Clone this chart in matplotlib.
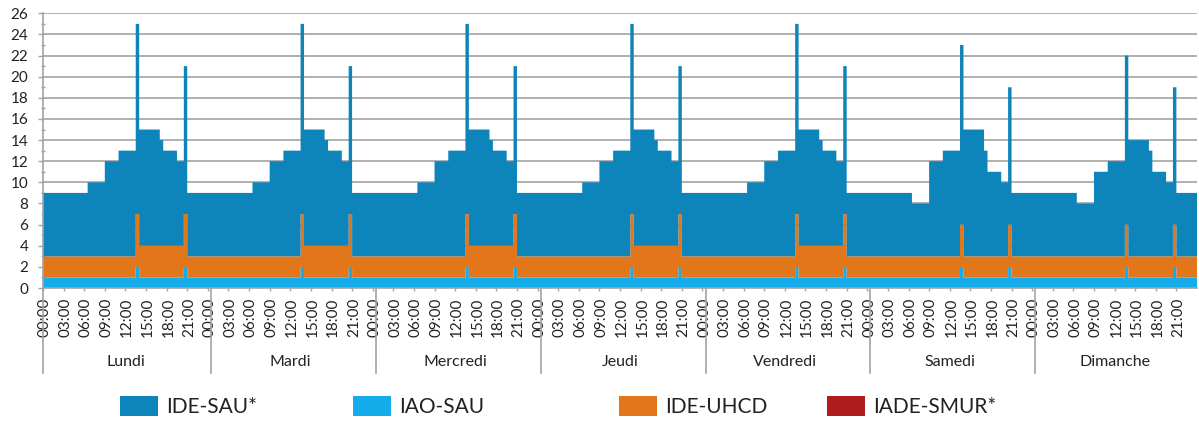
import numpy as np
import matplotlib
matplotlib.use("Agg")
import matplotlib.pyplot as plt
from matplotlib.patches import Patch
import matplotlib.transforms as mtransforms

plt.rcParams['font.family'] = ['Lato', 'DejaVu Sans']

# Staff on duty per half-hour slot (48 slots per day, 00:00 -> 23:30)
days = ["Lundi", "Mardi", "Mercredi", "Jeudi", "Vendredi", "Samedi", "Dimanche"]
hour_labels = ["00:00", "03:00", "06:00", "09:00", "12:00", "15:00", "18:00", "21:00"]

# Weekday profile (identical Monday to Friday)
sau_weekday = [6, 6, 6, 6, 6, 6, 6, 6, 6, 6, 6, 6, 6,
               7, 7, 7, 7, 7,
               9, 9, 9, 9,
               10, 10, 10, 10, 10,
               18,
               11, 11, 11, 11, 11, 11,
               10,
               9, 9, 9, 9,
               8, 8,
               14,
               6, 6, 6, 6, 6, 6]
iao_weekday = [1] * 27 + [2] + [1] * 13 + [2] + [1] * 6
uhcd_weekday = [2] * 27 + [5] + [3] * 13 + [5] + [2] * 6

# Saturday
sau_saturday = [6, 6, 6, 6, 6, 6, 6, 6, 6, 6, 6, 6, 6,
                5, 5, 5, 5, 5,
                9, 9, 9, 9,
                10, 10, 10, 10, 10,
                17,
                12, 12, 12, 12, 12, 12,
                10,
                8, 8, 8, 8,
                7, 7,
                13,
                6, 6, 6, 6, 6, 6]
iao_saturday = [1] * 27 + [2] + [1] * 13 + [2] + [1] * 6
uhcd_saturday = [2] * 27 + [4] + [2] * 13 + [4] + [2] * 6

# Sunday
sau_sunday = [6, 6, 6, 6, 6, 6, 6, 6, 6, 6, 6, 6, 6,
              5, 5, 5, 5, 5,
              8, 8, 8, 8,
              9, 9, 9, 9, 9,
              16,
              11, 11, 11, 11, 11, 11,
              10,
              8, 8, 8, 8,
              7, 7,
              13,
              6, 6, 6, 6, 6, 6]
iao_sunday = [1] * 27 + [2] + [1] * 13 + [2] + [1] * 6
uhcd_sunday = [2] * 27 + [4] + [2] * 13 + [4] + [2] * 6

ide_sau = np.array(sau_weekday * 5 + sau_saturday + sau_sunday, dtype=float)
iao_sau = np.array(iao_weekday * 5 + iao_saturday + iao_sunday, dtype=float)
ide_uhcd = np.array(uhcd_weekday * 5 + uhcd_saturday + uhcd_sunday, dtype=float)
iade_smur = np.zeros_like(ide_sau)

colors = {
    "IDE-SAU*": "#0D85BA",
    "IAO-SAU": "#15ACEC",
    "IDE-UHCD": "#E2761A",
    "IADE-SMUR*": "#B01C1C",
}

n_slots = len(ide_sau)
slots_per_day = 48
edges = np.arange(n_slots + 1)

fig = plt.figure(figsize=(11.99, 4.21), dpi=100)
ax = fig.add_axes([43 / 1199, 1 - 288 / 421, (1197 - 43) / 1199, (288 - 13.3) / 421])

# Stacked step areas (bottom to top)
base = np.zeros(n_slots)
for name, vals in [("IAO-SAU", iao_sau), ("IDE-UHCD", ide_uhcd),
                   ("IDE-SAU*", ide_sau), ("IADE-SMUR*", iade_smur)]:
    top = base + vals
    ax.stairs(top, edges, baseline=base, fill=True, color=colors[name],
              lw=0, zorder=2)
    base = top

ax.set_xlim(0, n_slots)
ax.set_ylim(0, 26)

# Y axis
grid_c = "#a3a3a3"
ax.set_yticks(np.arange(0, 27, 2))
ax.set_yticks(np.arange(1, 26, 2), minor=True)
ax.yaxis.grid(True, which="major", color=grid_c, lw=1.2, zorder=0)
ax.set_axisbelow(True)
ax.tick_params(axis="y", which="major", length=3.6, width=1, color=grid_c,
               pad=7, labelsize=11, labelcolor="#222222")
ax.tick_params(axis="y", which="minor", length=2.5, width=1, color=grid_c,
               direction="inout")

# X axis: hour labels at slot centres, short marks every 3 hours
label_pos = []
label_txt = []
for d in range(len(days)):
    for j, h in enumerate(hour_labels):
        label_pos.append(d * slots_per_day + 6 * j + 0.5)
        label_txt.append(h)
ax.set_xticks(label_pos)
ax.set_xticklabels(label_txt, rotation=90, ha="center", va="top")
ax.set_xticks(np.arange(0, n_slots, 6), minor=True)
ax.tick_params(axis="x", which="major", length=0, pad=7, labelsize=11,
               labelcolor="#222222")
ax.tick_params(axis="x", which="minor", length=2.5, width=1, color=grid_c)

for side in ("top", "right"):
    ax.spines[side].set_visible(False)
for side in ("left", "bottom"):
    ax.spines[side].set_color(grid_c)
    ax.spines[side].set_linewidth(1.2)

# Day group separators and day names
trans = mtransforms.blended_transform_factory(ax.transData, ax.transAxes)
sep_bottom = -(373 - 288) / (288 - 13.3)
for d in range(len(days)):
    xs = 0 if d == 0 else d * slots_per_day + 0.9
    ax.plot([xs, xs], [0, sep_bottom], transform=trans, color=grid_c,
            lw=1.2, clip_on=False, zorder=3)
    ax.text(d * slots_per_day + 24, -(362 - 288) / (288 - 13.3), days[d],
            transform=trans, ha="center", va="center", fontsize=11.5,
            color="#222222")

# Legend entries laid out along the bottom
legend_x = [120, 353, 619, 827]
for name, lx in zip(["IDE-SAU*", "IAO-SAU", "IDE-UHCD", "IADE-SMUR*"], legend_x):
    fig.legend(handles=[Patch(facecolor=colors[name], edgecolor="none", label=name)],
               loc="center left", bbox_to_anchor=(lx / 1199, 1 - 406.5 / 421),
               frameon=False, fontsize=15, handlelength=1.83, handleheight=1.1,
               handletextpad=0.37, borderpad=0, borderaxespad=0,
               labelcolor="#222222")

fig.savefig("out.png", dpi=100)
